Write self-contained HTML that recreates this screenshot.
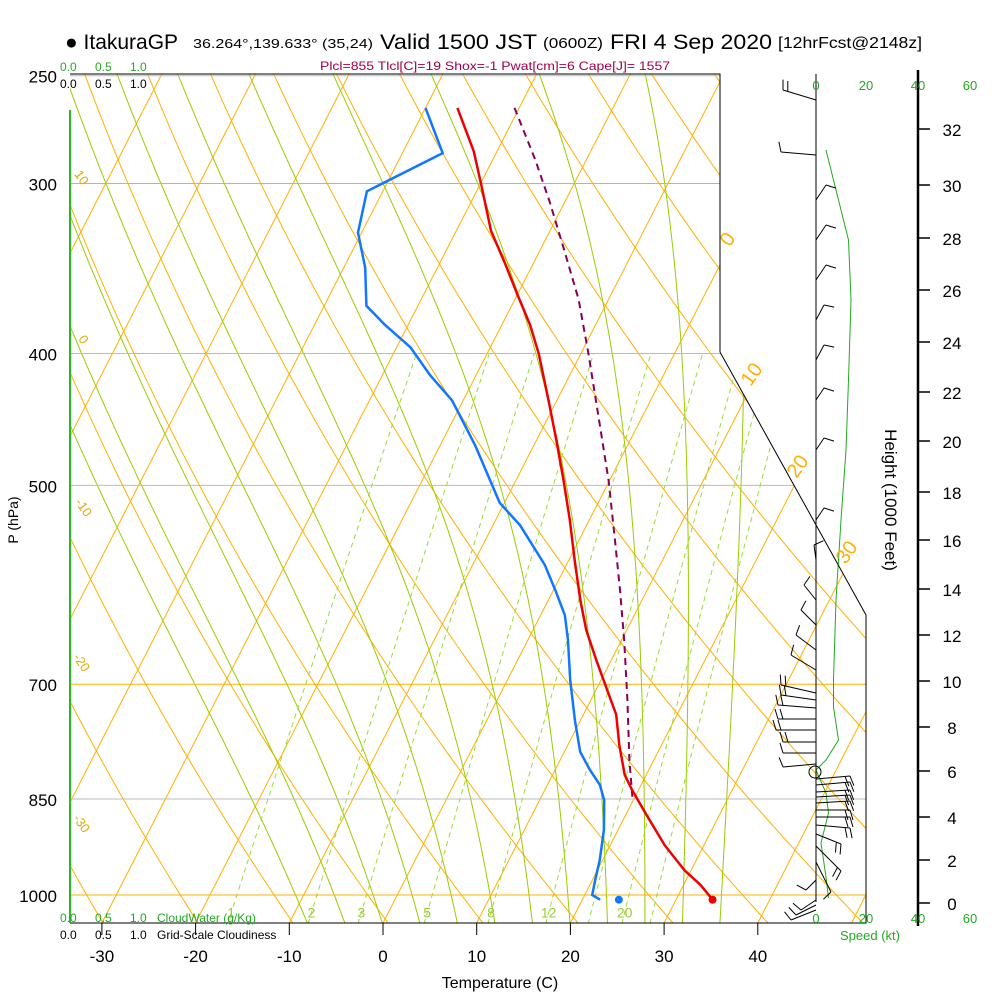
<!DOCTYPE html>
<html><head><meta charset="utf-8"><style>
html,body{margin:0;padding:0;background:#fff}
svg{display:block;font-family:"Liberation Sans",sans-serif}
</style></head><body>
<svg id="c" width="1000" height="1000" viewBox="0 0 1000 1000" xmlns="http://www.w3.org/2000/svg">
<defs><clipPath id="plotclip"><polygon points="70,74 720,74 720,352 866,615 866,923 70,923"/></clipPath></defs>
<g id="bg" clip-path="url(#plotclip)"></g>
<g id="marks"></g>
<g id="frame">
<polyline points="70,74 720,74 720,352 866,615 866,923 70,923" fill="none" stroke="#000" stroke-width="1"/>
<line x1="70" y1="110" x2="70" y2="923" stroke="#22bb22" stroke-width="2"/>
<line x1="816" y1="74" x2="816" y2="902" stroke="#000" stroke-width="1"/>
<line x1="918" y1="70" x2="918" y2="926" stroke="#000" stroke-width="2.5"/>
</g>
<g id="text">
<text x="65" y="49" font-size="21">● ItakuraGP</text>
<text x="193" y="48" font-size="13" textLength="180" lengthAdjust="spacingAndGlyphs">36.264°,139.633° (35,24)</text>
<text x="380" y="49" font-size="21" textLength="157" lengthAdjust="spacingAndGlyphs">Valid 1500 JST</text>
<text x="543" y="48" font-size="15" textLength="60" lengthAdjust="spacingAndGlyphs">(0600Z)</text>
<text x="610" y="49" font-size="21" textLength="162" lengthAdjust="spacingAndGlyphs">FRI 4 Sep 2020</text>
<text x="778" y="48" font-size="16" textLength="144" lengthAdjust="spacingAndGlyphs">[12hrFcst@2148z]</text>
<text x="320" y="70" font-size="12" fill="#a0004a" textLength="350" lengthAdjust="spacingAndGlyphs">Plcl=855 Tlcl[C]=19 Shox=-1 Pwat[cm]=6 Cape[J]= 1557</text>
<text x="18" y="520" font-size="14" transform="rotate(-90 18 520)" text-anchor="middle">P (hPa)</text>
<text x="500" y="988" font-size="16" text-anchor="middle">Temperature (C)</text>
<text x="885" y="500" font-size="17" transform="rotate(90 885 500)" text-anchor="middle">Height (1000 Feet)</text>
<g font-size="12">
<text x="60" y="71" fill="#22aa22">0.0</text><text x="95" y="71" fill="#22aa22">0.5</text><text x="130" y="71" fill="#22aa22">1.0</text>
<text x="60" y="88">0.0</text><text x="95" y="88">0.5</text><text x="130" y="88">1.0</text>
</g>
<g font-size="12">
<text x="60" y="922" fill="#22aa22">0.0</text><text x="95" y="922" fill="#22aa22">0.5</text><text x="130" y="922" fill="#22aa22">1.0</text>
<text x="157" y="922" fill="#22aa22">CloudWater (g/Kg)</text>
<text x="60" y="939">0.0</text><text x="95" y="939">0.5</text><text x="130" y="939">1.0</text>
<text x="157" y="939">Grid-Scale Cloudiness</text>
</g>
<g font-size="13" fill="#22aa22" text-anchor="middle">
<text x="816" y="90">0</text><text x="866" y="90">20</text><text x="918" y="90">40</text><text x="970" y="90">60</text>
<text x="816" y="923">0</text><text x="866" y="923">20</text><text x="918" y="923">40</text><text x="970" y="923">60</text>
<text x="870" y="940">Speed (kt)</text>
</g>
</g>
</svg>
<script>
// ---- data ----
const pressureTicks=[250,300,400,500,700,850,1000];
const tempTicks=[-30,-20,-10,0,10,20,30,40];
const heightTicks=[0,2,4,6,8,10,12,14,16,18,20,22,24,26,28,30,32];
const heightTickY=[903,860,817,771,727,681,635,589,540,492,441,392,342,290,238,185,129];
const tempP=[264,284,301,325,343,362,381,400,433,463,496,530,567,607,639,672,707,737,776,816,837,873,919,959,983,1008];
const tempT=[-36.6,-32.5,-29.8,-26.3,-23.1,-20.0,-17.0,-14.5,-10.9,-7.9,-4.9,-2.1,0.6,3.4,5.7,8.4,11.2,13.5,15.5,17.7,19.3,22.2,25.8,29.3,31.8,33.9];
const dewP=[264,285,304,326,346,369,381,396,415,433,467,515,535,572,597,623,650,695,744,785,809,830,852,896,943,975,1000,1008];
const dewT=[-40.0,-35.7,-41.7,-40.4,-37.7,-35.5,-32.5,-28.5,-24.9,-21.2,-16.3,-10.5,-7.1,-2.3,0.2,2.6,4.3,6.7,9.4,11.7,13.7,15.6,16.9,18.5,19.7,20.3,20.8,21.9];
const parcelP=[264,288,309,336,365,400,448,496,548,597,650,719,796,851];
const parcelT=[-30.5,-25.5,-21.7,-17.4,-13.2,-9.2,-4.4,-0.1,3.8,7.1,10.3,13.9,17.4,19.9];
const sfcTemp=33.9, sfcDew=23.9, sfcP=1008;
const mixRatios=[1,2,3,5,8,12,16,20,24];
const mixLabels=["1","2","3","5","8","12","","20",""];
const moistT0=[-8,-4,0,4,8,12,16,20,24,28,32,36];
const speedY=[150,190,240,300,380,450,520,600,680,707,740,760,770,793,813,843,877,898];
const speedKt=[4,8,13,14,13,12,10,8,7,7,9,4,0,4,5,2,4,5];
// wind barbs: y (px level), staff dx, staff dy, barb count
const barbY=[100,155,200,240,280,320,360,400,450,520,560,600,625,650,670,693,700,708,719,730,742,753,764,779,785,792,797,803,810,817,825,834,846,862,880,900,905,910];
const barbDX=[-33,-35,10,10,10,8,8,8,8,8,-2,-12,-15,-20,-25,-35,-35,-38,-38,-40,-33,-33,-33,34,34,34,34,34,34,34,34,25,25,15,-10,-15,-20,-25];
const barbDY=[-10,-3,-15,-15,-15,-15,-15,-12,-12,-12,-15,-15,-15,-15,-15,-8,-5,-3,0,0,0,0,3,-3,-3,-2,-2,-2,0,0,3,10,25,30,10,10,10,10];
const barbN=[2,1,1,1,1,1,1,1,1,1,1,1,1,1,1,2,2,2,2,2,2,1,1,2,2,2,2,2,2,2,2,2,2,1,1,1,1,1];

// ---- axes ----
const NS="http://www.w3.org/2000/svg";
function Y(p){return 895-591*Math.log(1000/p);}
function X(T,p){return 383+9.37*T+0.512*(923-Y(p));}
function el(tag,attrs,parent){const e=document.createElementNS(NS,tag);for(const k in attrs)e.setAttribute(k,attrs[k]);parent.appendChild(e);return e;}
const bg=document.getElementById('bg'),mk=document.getElementById('marks'),tx=document.getElementById('text');
const OR="#ffb000",GR="#99cc00";
function es(T){return 6.112*Math.exp(17.67*T/(T+243.5));}

for(let T=-110;T<=50;T+=10){
  const l=el('line',{x1:X(T,1050),y1:Y(1050),x2:X(T,240),y2:Y(240),stroke:OR,'stroke-width':1},bg);
  
  
}
for(let th=230;th<=480;th+=10){
  let pts=[];for(let p=1050;p>=240;p-=10){const T=th*Math.pow(p/1000,0.286)-273.15;pts.push(X(T,p).toFixed(1)+','+Y(p).toFixed(1));}
  const l=el('polyline',{points:pts.join(' '),fill:'none',stroke:OR,'stroke-width':1},bg);
  
  
}
moistT0.forEach(t0=>{
  let T=t0+273.15,pts=[];
  const step=-5;
  for(let p=1050;p>=240;p+=step){
    pts.push(X(T-273.15,p).toFixed(1)+','+Y(p).toFixed(1));
    const e=es(T-273.15),rs=0.622*e/(p-e),Lv=2.5e6,Rd=287,cp=1005;
    const dTdp=(Rd*T+Lv*rs)/(cp+Lv*Lv*rs*0.622/(Rd*T*T))/p;
    T+=dTdp*step;
  }
  const l=el('polyline',{points:pts.join(' '),fill:'none',stroke:GR,'stroke-width':1},bg);
  
  
});
mixRatios.forEach((w,i)=>{
  let pts=[];
  for(let p=1050;p>=400;p-=10){const e=w*p/(622+w);const a=Math.log(e/6.112);const Td=243.5*a/(17.67-a);pts.push(X(Td,p).toFixed(1)+','+Y(p).toFixed(1));}
  const l=el('polyline',{points:pts.join(' '),fill:'none',stroke:'#99dd33','stroke-width':1,'stroke-dasharray':'5,4'},bg);
  
  
  if(mixLabels[i]){const e=w*1030/(622+w);const a=Math.log(e/6.112);const Td=243.5*a/(17.67-a);
    const t=el('text',{x:X(Td,1030),y:Y(1030)+5,'font-size':14,fill:'#99cc33','text-anchor':'middle'},bg);t.textContent=mixLabels[i];
    
    }
});
pressureTicks.forEach(p=>{
  const orange=(p===300||p===700||p===1000);
  const l=el('line',{x1:70,y1:Y(p),x2:900,y2:Y(p),stroke:orange?OR:'#bbbbbb','stroke-width':1},bg);
  
  
  const t=el('text',{x:57,y:Y(p)+7,'font-size':17,'text-anchor':'end'},tx);t.textContent=p;
  
  
});
tempTicks.forEach(T=>{
  const x=383+9.37*T;
  const l=el('line',{x1:x,y1:923,x2:x,y2:935,stroke:'#000'},tx);
  
  
  const t=el('text',{x:x,y:962,'font-size':17,'text-anchor':'middle'},tx);t.textContent=T;
  
  
});
[[0,733,243],[10,757,378],[20,803,470],[30,852,556]].forEach(a=>{
  const t=el('text',{x:a[1],y:a[2],'font-size':20,fill:OR,'text-anchor':'middle',transform:`rotate(-55 ${a[1]} ${a[2]})`},tx);t.textContent=a[0];
  
  
});
[[10,78,180],[0,80,342],[-10,80,510],[-20,78,665],[-30,78,826]].forEach(a=>{
  const t=el('text',{x:a[1],y:a[2],'font-size':13,fill:'#ddaa00','text-anchor':'middle',transform:`rotate(55 ${a[1]} ${a[2]})`},tx);t.textContent=a[0];
  
  
});
heightTicks.forEach((h,i)=>{
  const y=heightTickY[i];
  const l=el('line',{x1:918,y1:y,x2:930,y2:y,stroke:'#000','stroke-width':1.5},tx);
  
  
  const t=el('text',{x:952,y:y+7,'font-size':17,'text-anchor':'middle'},tx);t.textContent=h;
  
  
});
function line(P,T,attrs,name){
  const pts=P.map((p,i)=>X(T[i],p).toFixed(1)+','+Y(p).toFixed(1)).join(' ');
  const l=el('polyline',Object.assign({points:pts,fill:'none'},attrs),mk);
  
  
}
line(parcelP,parcelT,{stroke:'#880055','stroke-width':2,'stroke-dasharray':'7,5'},'parcel-line');
line(dewP,dewT,{stroke:'#1177ff','stroke-width':2.5},'dewpoint-line');
line(tempP,tempT,{stroke:'#ee0000','stroke-width':2.5},'temperature-line');
const d1=el('circle',{cx:X(sfcTemp,sfcP),cy:Y(sfcP),r:4,fill:'#ee0000'},mk);


const d2=el('circle',{cx:X(sfcDew,sfcP),cy:Y(sfcP),r:4,fill:'#1177ff'},mk);


const sp=speedY.map((y,i)=>(816+speedKt[i]*2.5).toFixed(1)+','+y).join(' ');
const spl=el('polyline',{points:sp,fill:'none',stroke:'#22aa22','stroke-width':1},mk);


barbY.forEach((y,i)=>{
  const x2=816+barbDX[i],y2=y+barbDY[i];
  const len=Math.hypot(barbDX[i],barbDY[i])||1;
  const ux=barbDX[i]/len,uy=barbDY[i]/len;
  let d=`M816,${y}L${x2},${y2}`;
  for(let k=0;k<barbN[i];k++){
    const bx=x2-ux*k*5,by=y2-uy*k*5;
    d+=`M${bx},${by}l${(-uy*10+ux*3).toFixed(1)},${(ux*10+uy*3).toFixed(1)}`;
  }
  const b=el('path',{d:d,stroke:'#000','stroke-width':1,fill:'none'},mk);
  
  
});
const calm=el('circle',{cx:815,cy:772,r:6,fill:'none',stroke:'#000'},mk);


</script>
</body></html>
